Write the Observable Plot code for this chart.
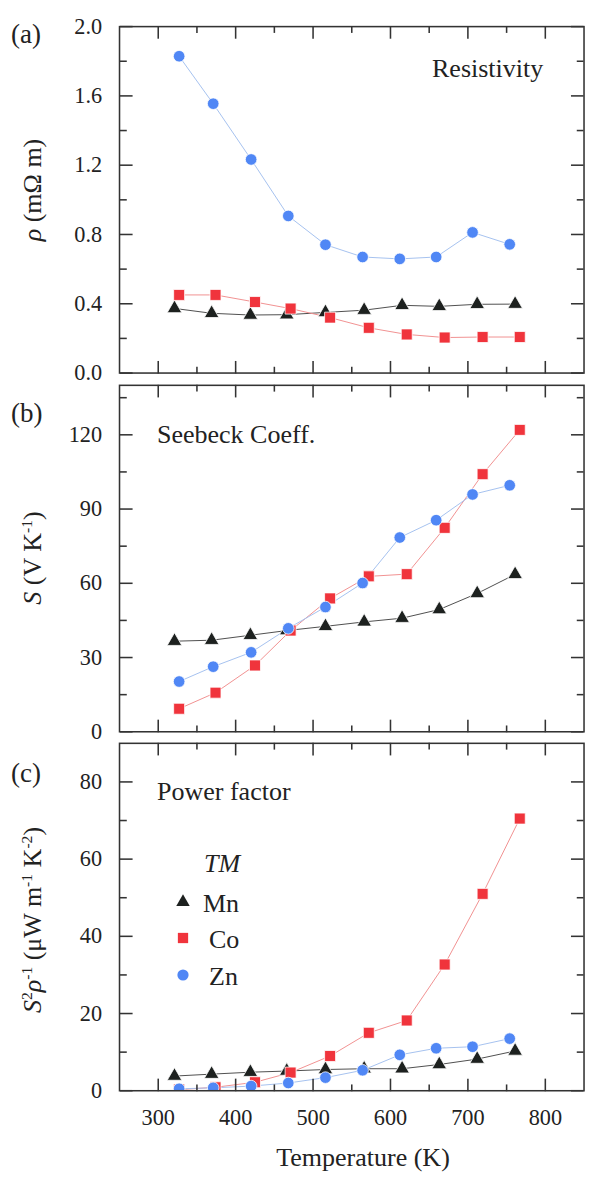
<!DOCTYPE html>
<html><head><meta charset="utf-8">
<script src="https://cdn.jsdelivr.net/npm/d3@7"></script>
<script src="https://cdn.jsdelivr.net/npm/@observablehq/plot@0.6"></script>
<style>
body{margin:0;background:white;overflow:hidden;}
.wrap{position:relative;width:600px;height:1178px;overflow:hidden;font-family:"Liberation Serif",serif;color:rgb(34,34,34);}
.panel{position:absolute;left:0;}
.lbl{position:absolute;white-space:nowrap;line-height:1;font-size:26px;}
.rot{transform:translate(-50%,-50%) rotate(-90deg);}
sup{font-size:0.6em;vertical-align:0.55em;line-height:0;}
</style></head><body><div id="wrap" class="wrap" style="font-family:'Liberation Serif',serif"></div>
<script>
// ---- data ----
const seriesNames = ["Mn", "Co", "Zn"];
const tempMn = [321, 369, 419, 466, 516, 566, 615, 663, 712, 761];
const tempCo = [327, 374, 425, 471, 522, 572, 621, 670, 719, 767];
const tempZn = [327, 371, 420, 468, 516, 564, 612, 659, 706, 754];

const rhoMn = [0.373, 0.345, 0.335, 0.337, 0.350, 0.363, 0.391, 0.385, 0.397, 0.398];
const rhoCo = [0.451, 0.451, 0.410, 0.372, 0.320, 0.261, 0.223, 0.205, 0.208, 0.208];
const rhoZn = [1.829, 1.555, 1.233, 0.907, 0.741, 0.670, 0.659, 0.670, 0.812, 0.743];

const seebMn = [36.6, 37.0, 39.0, 40.9, 42.6, 44.4, 45.9, 49.4, 55.9, 63.6];
const seebCo = [9.3, 15.8, 26.8, 40.9, 53.9, 62.8, 63.7, 82.4, 104.1, 122.0];
const seebZn = [20.3, 26.3, 32.1, 41.8, 50.4, 60.1, 78.5, 85.5, 95.9, 99.6];

const pfMn = [3.8, 4.3, 4.8, 5.1, 5.5, 5.7, 5.7, 6.8, 8.2, 10.3];
const pfCo = [0.3, 0.9, 2.2, 4.7, 9.0, 15.0, 18.2, 32.7, 51.0, 70.5];
const pfZn = [0.5, 0.75, 1.2, 2.0, 3.4, 5.3, 9.3, 11.0, 11.4, 13.5];

const xMajor = [300, 400, 500, 600, 700, 800];
const xMinor = [350, 450, 550, 650, 750];
const rhoMajor = [0, 0.4, 0.8, 1.2, 1.6, 2.0];
const rhoMinor = [0.2, 0.6, 1.0, 1.4, 1.8];
const seebMajor = [0, 30, 60, 90, 120];
const seebMinor = [15, 45, 75, 105, 135];
const pfMajor = [0, 20, 40, 60, 80];
const pfMinor = [10, 30, 50, 70];

// ---- styles ----
const FONT = "Liberation Serif, serif";
const INK = "rgb(51,51,51)";
const style = {
  Mn: {symbol: "triangle", fill: "rgb(29,33,31)", line: "rgb(74,74,74)", r: 5.6},
  Co: {symbol: "square", fill: "rgb(240,52,60)", line: "rgb(240,142,142)", r: 6.4},
  Zn: {symbol: "circle", fill: "rgb(80,135,245)", line: "rgb(163,192,238)", r: 6}
};
const temps = {Mn: tempMn, Co: tempCo, Zn: tempZn};

function rowsOf(name, vals) {
  return temps[name].map((T, i) => ({T, v: vals[i], tm: name}));
}

const wrap = document.getElementById("wrap");
const W = 620, ML = 123, MR = 17, FW = W - ML - MR;

function makePanel({values, domain, major, minor, fmt, top, height, mt, mb, xLabels}) {
  const FH = height - mt - mb;
  const marks = [];
  seriesNames.forEach(n => marks.push(Plot.line(rowsOf(n, values[n]), {x: "T", y: "v", stroke: style[n].line, strokeWidth: 1, clip: true})));
  seriesNames.forEach(n => marks.push(Plot.dot(rowsOf(n, values[n]), {x: "T", y: "v", symbol: style[n].symbol, r: style[n].r, fill: style[n].fill, stroke: "white", strokeWidth: 0.8, clip: true})));
  const tk = {stroke: INK, strokeWidth: 1.6, fill: "none", label: null};
  // inward ticks: an axis anchored on the opposite side, shifted across the frame
  marks.push(
    Plot.axisY(major, {anchor: "right", dx: -FW, tickSize: 13, ...tk}),
    Plot.axisY(minor, {anchor: "right", dx: -FW, tickSize: 7, ...tk}),
    Plot.axisY(major, {anchor: "left", dx: FW, tickSize: 13, ...tk}),
    Plot.axisY(minor, {anchor: "left", dx: FW, tickSize: 7, ...tk}),
    Plot.axisX(xMajor, {anchor: "top", dy: FH, tickSize: 13, ...tk}),
    Plot.axisX(xMinor, {anchor: "top", dy: FH, tickSize: 7, ...tk}),
    Plot.axisX(xMajor, {anchor: "bottom", dy: -FH, tickSize: 13, ...tk}),
    Plot.axisX(xMinor, {anchor: "bottom", dy: -FH, tickSize: 7, ...tk}),
    Plot.axisY(major, {anchor: "left", tickSize: 0, tickPadding: 18, tickFormat: fmt, fill: "rgb(34,34,34)", label: null})
  );
  if (xLabels) marks.push(Plot.axisX(xMajor, {anchor: "bottom", tickSize: 0, tickPadding: 19, tickFormat: d => String(d), fill: "rgb(34,34,34)", label: null}));
  marks.push(Plot.frame({stroke: INK, strokeWidth: 1.6}));
  const p = Plot.plot({
    width: W, height, marginLeft: ML, marginRight: MR, marginTop: mt, marginBottom: mb,
    x: {domain: [250, 850], label: null},
    y: {domain, label: null},
    style: {fontFamily: FONT, fontSize: "23px", background: "transparent", overflow: "visible", color: "rgb(34,34,34)"},
    marks
  });
  p.classList.add("panel");
  p.style.top = top + "px";
  wrap.appendChild(p);
}

makePanel({values: {Mn: rhoMn, Co: rhoCo, Zn: rhoZn}, domain: [0, 2.0], major: rhoMajor, minor: rhoMinor, fmt: d3.format(".1f"), top: 0, height: 390, mt: 27, mb: 5});
makePanel({values: {Mn: seebMn, Co: seebCo, Zn: seebZn}, domain: [0, 140], major: seebMajor, minor: seebMinor, fmt: d => String(d), top: 380, height: 368, mt: 5, mb: 5});
makePanel({values: {Mn: pfMn, Co: pfCo, Zn: pfZn}, domain: [0, 90], major: pfMajor, minor: pfMinor, fmt: d => String(d), top: 738, height: 440, mt: 5, mb: 76, xLabels: true});

// ---- texts ----
function addLabel(html, css, cls) {
  const d = document.createElement("div");
  d.className = "lbl" + (cls ? " " + cls : "");
  d.innerHTML = html;
  Object.assign(d.style, css);
  wrap.appendChild(d);
  return d;
}
addLabel("(a)", {left: "11px", top: "21px", fontSize: "27px"});
addLabel("(b)", {left: "11px", top: "400px", fontSize: "27px"});
addLabel("(c)", {left: "11px", top: "760px", fontSize: "27px"});
addLabel("Resistivity", {left: "432px", top: "56px"});
addLabel("Seebeck Coeff.", {left: "157px", top: "422px"});
addLabel("Power factor", {left: "157px", top: "779px"});
addLabel("<i>ρ</i> (mΩ m)", {left: "33px", top: "190px"}, "rot");
addLabel("<i>S</i> (V K<sup>-1</sup>)", {left: "33px", top: "558px"}, "rot");
addLabel("<i>S</i><sup>2</sup><i>ρ</i><sup>-1</sup> (μW m<sup>-1</sup> K<sup>-2</sup>)", {left: "33px", top: "920px"}, "rot");
addLabel("Temperature (K)", {left: "363px", top: "1145px", transform: "translateX(-50%)"});

// ---- legend ----
addLabel("<i>TM</i>", {left: "204px", top: "851px"});
const legY = {Mn: 902, Co: 938, Zn: 975};
const legText = {Mn: 203, Co: 209, Zn: 209};
const lsvg = d3.select(wrap).append("svg").attr("width", 600).attr("height", 1178)
  .style("position", "absolute").style("left", 0).style("top", 0).style("pointer-events", "none");
const symMap = {triangle: d3.symbolTriangle, square: d3.symbolSquare, circle: d3.symbolCircle};
const legR = {Mn: 5, Co: 5.8, Zn: 5.6};
seriesNames.forEach(n => {
  lsvg.append("path")
    .attr("d", d3.symbol(symMap[style[n].symbol], Math.PI * legR[n] * legR[n])())
    .attr("transform", `translate(183,${legY[n]})`)
    .attr("fill", style[n].fill);
  addLabel(n, {left: legText[n] + "px", top: (legY[n] - 11) + "px"});
});
</script></body></html>
